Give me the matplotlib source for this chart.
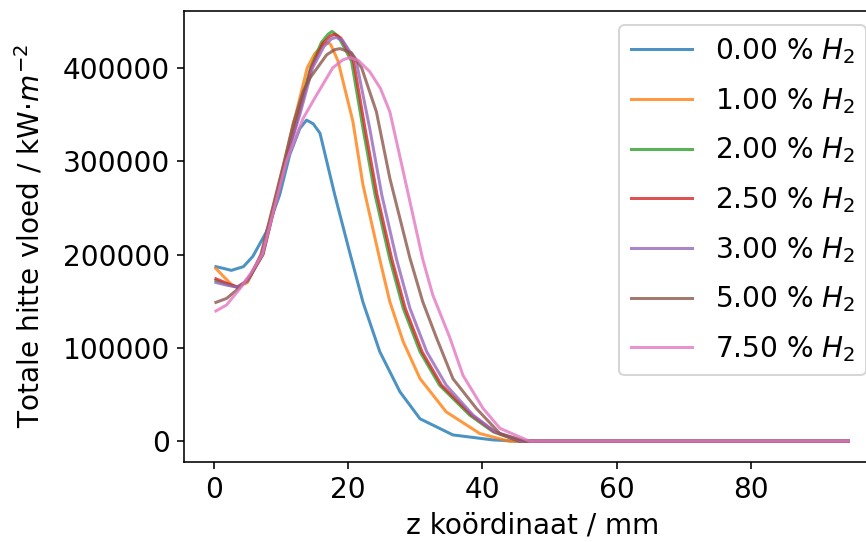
import matplotlib
matplotlib.use("Agg")
import matplotlib.pyplot as plt
import numpy as np

# H2 fraction (%) per series
h2_pct = [0.00, 1.00, 2.00, 2.50, 3.00, 5.00, 7.50]

# flat tail after the flame front, same for every series
z_tail = [50, 60, 70, 80, 90, 94.5]
q_tail = [0, 0, 0, 0, 0, 0]

z_000 = [0.3, 1.5, 2.6, 4.4, 5.8, 7.8, 9.8, 11.3, 12.8, 13.8, 14.8, 15.8, 18.0, 20.2,
         22.2, 24.7, 27.7, 30.7, 35.6, 41.5, 45.0]
q_000 = [187000, 185000, 183000, 187000, 198000, 224000, 264000, 307000, 335000, 344000,
         340000, 330000, 264000, 203000, 149000, 96000, 53000, 24000, 6700, 1400, 0]

z_100 = [0.3, 1.5, 2.6, 3.5, 5.0, 7.1, 8.8, 10.5, 12.2, 13.9, 15.0, 16.3, 17.0, 17.4,
         18.5, 20.7, 22.2, 24.7, 26.2, 28.2, 30.7, 34.6, 39.6, 44.0]
q_100 = [185000, 176000, 168000, 165000, 170000, 200000, 250000, 300000, 350000, 400000,
         415000, 425000, 427000, 425000, 407000, 342600, 274700, 195000, 149500, 106500,
         67000, 31400, 8200, 0]

z_200 = [0.3, 2.0, 3.5, 5.0, 7.3, 10.7, 12.6, 14.4, 16.0, 17.0, 17.6, 18.5, 20.5, 22.2,
         24.0, 26.2, 28.2, 30.7, 33.6, 38.1, 41.6, 45.5]
q_200 = [172000, 168000, 165000, 172000, 200000, 300000, 352000, 400000, 427000, 436000,
         439000, 434000, 407000, 335400, 264000, 195000, 142300, 95800, 60000, 27900,
         10000, 0]

z_250 = [0.3, 2.0, 3.5, 5.0, 7.3, 10.7, 12.7, 14.5, 16.2, 17.3, 18.0, 18.9, 20.8, 22.5,
         24.3, 26.5, 28.5, 31.0, 33.9, 38.4, 41.8, 45.5]
q_250 = [174000, 169000, 165000, 172000, 200000, 300000, 352000, 400000, 426000, 434000,
         436000, 432000, 407000, 335400, 264000, 195000, 142300, 95800, 60000, 27900,
         10000, 0]

z_300 = [0.3, 2.0, 3.5, 5.0, 7.2, 10.7, 12.8, 14.7, 16.4, 17.5, 18.2, 19.2, 21.2, 23.2,
         25.0, 27.2, 29.2, 31.7, 34.6, 38.6, 41.9, 45.8]
q_300 = [170000, 167000, 165000, 172000, 200000, 300000, 350000, 400000, 423000, 431000,
         432700, 429000, 407000, 335400, 264000, 195000, 142300, 95800, 60000, 27900,
         10000, 0]

z_500 = [0.3, 1.9, 3.9, 5.5, 7.0, 10.5, 11.8, 13.3, 14.3, 16.8, 18.0, 18.8, 20.5, 22.0,
         24.2, 26.2, 29.2, 31.1, 33.1, 35.6, 39.1, 42.6, 46.5]
q_500 = [148700, 153000, 165000, 178000, 200000, 300000, 340000, 375000, 389000, 414000,
         419500, 420600, 416000, 400000, 353000, 281800, 196000, 149500, 111700, 67000,
         35000, 8200, 0]

z_750 = [0.3, 1.9, 3.9, 5.5, 7.2, 10.8, 13.3, 15.3, 17.7, 19.2, 20.2, 21.5, 23.2, 24.8,
         26.2, 27.7, 31.1, 32.6, 35.1, 37.1, 40.1, 42.6, 47.0]
q_750 = [139500, 146000, 163700, 180000, 200000, 300000, 346000, 371000, 400000, 408500,
         411000, 408000, 396000, 378000, 353000, 305000, 195000, 156600, 111700, 70500,
         35000, 13800, 0]

z_series = [z_000, z_100, z_200, z_250, z_300, z_500, z_750]
q_series = [q_000, q_100, q_200, q_250, q_300, q_500, q_750]

plt.rcParams["font.size"] = 14

fig = plt.figure(figsize=(866 / 144, 542 / 144), dpi=144)
ax = fig.add_axes([0.2128, 0.1482, 0.8034, 0.8316])

for pct, z, q in zip(h2_pct, z_series, q_series):
    ax.plot(np.array(z + z_tail), np.array(q + q_tail), lw=1.5, alpha=0.8,
            label=f"{pct:.2f} % $H_2$")

ax.set_xlabel("z koördinaat / mm")
ax.set_ylabel("Totale hitte vloed / kW·$m^{-2}$", labelpad=9)
ax.legend(loc="upper right", labelspacing=0.71, handlelength=2.2)

fig.savefig("out.png", dpi=144)
